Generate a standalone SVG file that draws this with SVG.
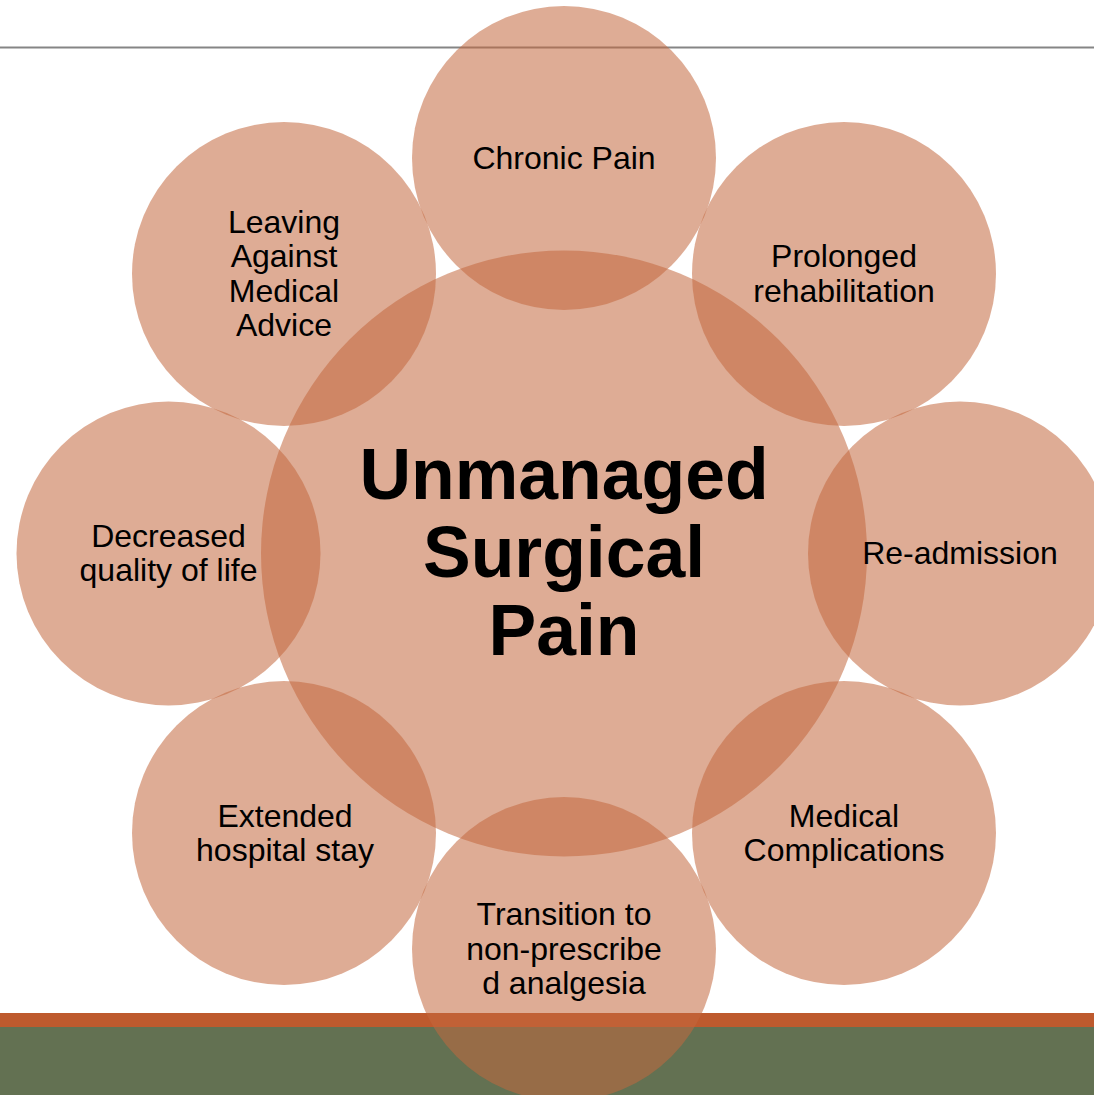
<svg xmlns="http://www.w3.org/2000/svg" width="1094" height="1095" viewBox="0 0 1094 1095">
<style>
.c{fill:#C2673E;fill-opacity:0.55}
.t{font-family:"Liberation Sans",Arial,sans-serif;font-size:32px;fill:#000;text-anchor:middle}
.h{font-family:"Liberation Sans",Arial,sans-serif;font-size:71.5px;font-weight:bold;fill:#000;text-anchor:middle}
</style>
<rect width="1094" height="1095" fill="#fff"/>
<g id="background">
<rect x="0" y="46.5" width="1094" height="2" fill="#858585"/>
<rect x="0" y="1013" width="1094" height="14" fill="#BE5A2E"/>
<rect x="0" y="1027" width="1094" height="68" fill="#637152"/>
</g>
<g id="center">
<circle class="c" cx="564" cy="553.5" r="303"/>
</g>
<g id="n-chronic"><circle class="c" cx="564" cy="158" r="152"/></g>
<g id="n-prolonged"><circle class="c" cx="844" cy="274" r="152"/></g>
<g id="n-readmission"><circle class="c" cx="960" cy="553.5" r="152"/></g>
<g id="n-medical"><circle class="c" cx="844" cy="833" r="152"/></g>
<g id="n-transition"><circle class="c" cx="564" cy="949" r="152"/></g>
<g id="n-extended"><circle class="c" cx="284" cy="833" r="152"/></g>
<g id="n-decreased"><circle class="c" cx="168.5" cy="553.5" r="152"/></g>
<g id="n-leaving"><circle class="c" cx="284" cy="274" r="152"/></g>
<g id="connectors"></g>
<g id="labels">
<text class="h" x="564" y="499">Unmanaged</text>
<text class="h" x="564" y="577">Surgical</text>
<text class="h" x="564" y="655">Pain</text>
<text class="t" x="564" y="169">Chronic Pain</text>
<text class="t" x="844" y="267">Prolonged</text>
<text class="t" x="844" y="302">rehabilitation</text>
<text class="t" x="960" y="564">Re-admission</text>
<text class="t" x="844" y="827">Medical</text>
<text class="t" x="844" y="861">Complications</text>
<text class="t" x="564" y="925">Transition to</text>
<text class="t" x="564" y="960">non-prescribe</text>
<text class="t" x="564" y="994">d analgesia</text>
<text class="t" x="285" y="827">Extended</text>
<text class="t" x="285" y="861">hospital stay</text>
<text class="t" x="168.5" y="547">Decreased</text>
<text class="t" x="168.5" y="581">quality of life</text>
<text class="t" x="284" y="233">Leaving</text>
<text class="t" x="284" y="267">Against</text>
<text class="t" x="284" y="302">Medical</text>
<text class="t" x="284" y="336">Advice</text>
</g>
</svg>
